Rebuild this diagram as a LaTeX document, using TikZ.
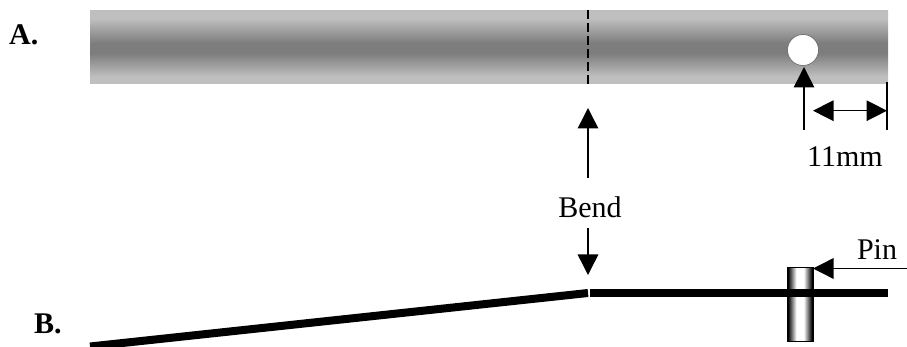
\documentclass[tikz,border=0pt]{standalone}
\usepackage{fontspec}
\setmainfont{Liberation Serif}
\usetikzlibrary{arrows.meta}
\definecolor{barlight}{gray}{0.75}
\definecolor{bardark}{gray}{0.49}
\pgfdeclareverticalshading{barshade}{100bp}{color(0bp)=(barlight);color(30bp)=(barlight);color(46bp)=(bardark);color(53bp)=(bardark);color(70bp)=(barlight);color(100bp)=(barlight)}
\pgfdeclarehorizontalshading{pinshade}{100bp}{color(0bp)=(black);color(27bp)=(black);color(43bp)=(white);color(57bp)=(white);color(73bp)=(black);color(100bp)=(black)}
\tikzset{
  lbl/.style={inner sep=0pt,font=\fontsize{30}{36}\selectfont},
  lblb/.style={inner sep=0pt,font=\fontsize{30}{36}\selectfont\bfseries},
  conn/.style={line width=1.5pt,draw=black},
  bighead/.style={-{Triangle[length=20.5pt,width=20.5pt]}},
  bigheads/.style={{Triangle[length=20.5pt,width=20.5pt]}-{Triangle[length=20.5pt,width=20.5pt]}},
  beam/.style={line width=8pt,draw=black,line cap=butt},
  barfill/.style={shading=barshade,draw=none},
  pinfill/.style={shading=pinshade,draw=black,line width=1pt},
}
\begin{document}
\begin{tikzpicture}[x=1pt,y=-1pt]
\useasboundingbox (0,0) rectangle (907,347);
\clip (0,0) rectangle (907,347);
% bar A
\path[barfill,shade] (90,11) rectangle (888,84);
\node[circle,draw=black!60,line width=0.6pt,fill=white,minimum size=31pt,inner sep=0pt] (hole) at (803,50) {};
\coordinate (bendTop) at (588,10);
\coordinate (bendBot) at (588,84);
\draw[line width=1.5pt,dash pattern=on 9pt off 4pt] (bendTop) -- (bendBot);
% labels
\node[lblb,anchor=base west] (labA) at (9,45) {A.};
\node[lblb,anchor=base west] (labB) at (34,333) {B.};
\node[lbl,anchor=base] (bend) at (590,218) {Bend};
\node[lbl,anchor=base] (mm) at (845,167) {11mm};
\node[lbl,anchor=base] (pinlab) at (877,260) {Pin};
% hole dimension
\coordinate (holeTail) at (804,130);
\coordinate (holeTip) at (804,67);
\draw[conn,bighead] (holeTail) -- (holeTip);
\coordinate (tickTop) at (887,82);
\coordinate (tickBot) at (887,130);
\draw[conn] (tickTop) -- (tickBot);
\coordinate (dimL) at (813,110.7);
\coordinate (dimR) at (887,110.7);
\draw[conn,bigheads] (dimL) -- (dimR);
% bend arrows
\coordinate (upTail) at (588,178);
\coordinate (upTip) at (588,108);
\draw[conn,bighead] (upTail) -- (upTip);
\coordinate (dnTail) at (588,228);
\coordinate (dnTip) at (588,275);
\draw[conn,bighead] (dnTail) -- (dnTip);
% pin
\path[pinfill,shade,draw] (787,268) rectangle (813,341);
% beam
\coordinate (beamL) at (90,346.5);
\coordinate (beamM) at (588,293);
\coordinate (beamN) at (590,293);
\coordinate (beamR) at (888,293);
\draw[beam] (beamL) -- (beamM);
\draw[beam] (beamN) -- (beamR);
% pin arrow
\coordinate (pinTail) at (907,268.5);
\coordinate (pinTip) at (813,268.5);
\draw[conn,bighead] (pinTail) -- (pinTip);
\end{tikzpicture}
\end{document}
